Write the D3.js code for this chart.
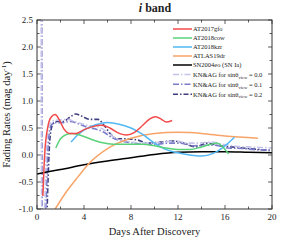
<!DOCTYPE html>
<html>
<head>
<meta charset="utf-8">
<script src="https://cdn.jsdelivr.net/npm/d3@7"></script>
<style>
  body { margin: 0; background: white; }
  text { font-family: "Liberation Serif", "DejaVu Serif", serif; fill: #222; }
</style>
</head>
<body>
<script>
// values
const xTicks = [0, 4, 8, 12, 16, 20];
const yTicks = [-1.0, -0.5, 0.0, 0.5, 1.0, 1.5, 2.0, 2.5];

const gfoDays  = [0.5,0.65,0.9,1.2,1.55,1.9,2.3,2.8,3.3,4,4.8,5.5,6.2,7,7.6,8.3,9,9.6,10.1,10.6,11,11.5];
const gfoRates = [-0.76,0.0,0.5,0.7,0.75,0.65,0.48,0.4,0.4,0.47,0.53,0.55,0.5,0.4,0.37,0.42,0.55,0.67,0.71,0.66,0.61,0.64];

const cowDays  = [1.6,2.0,2.5,3.0,3.5,4.5,5.5,6.5,8,9,10,11,12,13,14,14.8,15.3,15.8,16.3];
const cowRates = [0.13,0.3,0.38,0.4,0.38,0.3,0.23,0.2,0.2,0.2,0.17,0.13,0.1,0.1,0.15,0.2,0.22,0.15,0.02];

const kzrDays  = [2.9,3.5,4.5,5.5,6,7,8,9,10,11,12,13,14,15,16,16.8];
const kzrRates = [0.24,0.38,0.52,0.59,0.6,0.57,0.5,0.38,0.22,0.1,0.04,0.0,-0.02,0.03,0.17,0.33];

const drDays  = [1.55,2.5,3.5,4.5,6,8,10,12,14,16,18.8];
const drRates = [-1.0,-0.68,-0.4,-0.14,0.12,0.31,0.4,0.42,0.4,0.35,0.31];

const eoDays  = [0,2,4,6,8,10,12,14,16,18,20];
const eoRates = [-0.35,-0.27,-0.18,-0.11,-0.05,0.01,0.05,0.06,0.06,0.05,0.04];

const kn0Days  = [0.35,0.4,0.6,0.85,1.1,1.5,2.0,2.6,3.2,3.8,4.5,5.2,6.0,6.8,7.8,8.8,9.8,10.8,11.8,12.8,13.8,14.8,15.8,17,18,19,20];
const kn0Rates = [3.0,-1.1,-1.1,0.3,0.58,0.64,0.65,0.66,0.62,0.58,0.54,0.52,0.42,0.3,0.25,0.22,0.22,0.24,0.26,0.22,0.22,0.24,0.2,0.16,0.15,0.14,0.13];

const kn1Days  = [0.4,0.45,0.7,0.95,1.2,1.6,2.2,2.8,3.5,4.2,5,5.7,6.4,7.2,8.2,9.2,10.2,11.2,12.2,13.2,14.2,15.2,16.2,17.5,18.5,20];
const kn1Rates = [3.0,-1.1,-1.1,0.2,0.55,0.6,0.6,0.62,0.58,0.52,0.48,0.42,0.32,0.26,0.22,0.2,0.2,0.22,0.22,0.17,0.18,0.18,0.13,0.12,0.1,0.09];

const kn2Days  = [0.85,0.95,1.1,1.3,1.6,2.2,2.8,3.3,3.8,4.5,5.2,5.7,6.3,6.8,7.5,8.5,9.5,10.5,11.5,12.5,13.5,14.5,15.5,16.5,17.5,18.5,19.5,20];
const kn2Rates = [-1.1,-0.4,0.3,0.55,0.62,0.62,0.7,0.76,0.72,0.66,0.66,0.55,0.38,0.3,0.3,0.28,0.22,0.24,0.26,0.22,0.15,0.22,0.17,0.15,0.13,0.11,0.09,0.08];

const seriesNames = ["AT2017gfo", "AT2018cow", "AT2018kzr", "ATLAS19dr", "SN2004eo (SN Ia)", "kn0", "kn1", "kn2"];
const seriesColors = ["#f24a4a", "#5ad27a", "#52b8f4", "#f7a468", "#000000", "#c4c4ea", "#7c7cc8", "#3e3e80"];
const knViews = ["0.0", "0.1", "0.2"];

function drawChart() {
  let W = 293, H = 240;
  let m = {left: 37, right: 21, top: 20, bottom: 31};

  let svg = d3.select("body").append("svg")
    .attr("width", W)
    .attr("height", H);

  let x = d3.scaleLinear().domain([0, 20]).range([m.left, W - m.right]);
  let y = d3.scaleLinear().domain([-1, 2.5]).range([H - m.bottom, m.top]);

  svg.append("defs").append("clipPath").attr("id", "plotclip")
    .append("rect")
    .attr("x", x(0)).attr("y", y(2.5))
    .attr("width", x(20) - x(0)).attr("height", y(-1) - y(2.5));

  // ticks inward on all sides
  let xMinor = d3.range(0, 20.01, 2);
  let yMinor = d3.range(-1, 2.51, 0.25);
  let tk = svg.append("g").attr("stroke", "#333").attr("stroke-width", 0.8);
  xMinor.forEach(d => {
    let len = (d % 4 === 0) ? 4 : 2.5;
    tk.append("line").attr("x1", x(d)).attr("x2", x(d)).attr("y1", y(-1)).attr("y2", y(-1) - len);
    tk.append("line").attr("x1", x(d)).attr("x2", x(d)).attr("y1", y(2.5)).attr("y2", y(2.5) + len);
  });
  yMinor.forEach(d => {
    let len = (Math.abs(d * 2 - Math.round(d * 2)) < 1e-6) ? 4 : 2.5;
    tk.append("line").attr("y1", y(d)).attr("y2", y(d)).attr("x1", x(0)).attr("x2", x(0) + len);
    tk.append("line").attr("y1", y(d)).attr("y2", y(d)).attr("x1", x(20)).attr("x2", x(20) - len);
  });

  svg.selectAll(".xlab").data(xTicks).enter().append("text")
    .attr("x", d => x(d)).attr("y", y(-1) + 11)
    .attr("text-anchor", "middle").attr("font-size", 9)
    .text(d => d);

  svg.selectAll(".ylab").data(yTicks).enter().append("text")
    .attr("x", x(0) - 4).attr("y", d => y(d) + 3)
    .attr("text-anchor", "end").attr("font-size", 9)
    .text(d => d.toFixed(1));

  // curves
  let allDays = [gfoDays, cowDays, kzrDays, drDays, eoDays, kn0Days, kn1Days, kn2Days];
  let allRates = [gfoRates, cowRates, kzrRates, drRates, eoRates, kn0Rates, kn1Rates, kn2Rates];
  let dashes = [null, null, null, null, null, "6,2,1.5,2", "6,2,1.5,2", "5,2,1.5,2"];

  let line = d3.line().x(d => x(d[0])).y(d => y(d[1])).curve(d3.curveMonotoneX);
  let plot = svg.append("g").attr("clip-path", "url(#plotclip)");

  // draw KN first so observed curves sit on top
  [7, 6, 5, 4, 3, 2, 1, 0].forEach(i => {
    let pts = allDays[i].map((d, j) => [d, allRates[i][j]]);
    plot.append("path")
      .attr("d", line(pts))
      .attr("fill", "none")
      .attr("stroke", seriesColors[i])
      .attr("stroke-width", i >= 5 ? 1.6 : 1.5)
      .attr("stroke-dasharray", dashes[i]);
  });

  svg.append("rect")
    .attr("x", x(0)).attr("y", y(2.5))
    .attr("width", x(20) - x(0)).attr("height", y(-1) - y(2.5))
    .attr("fill", "none").attr("stroke", "#333").attr("stroke-width", 1);

  // legend
  let legY = [29, 38, 47, 56, 65, 74.5, 84.3, 94.2];
  let leg = svg.append("g");
  seriesNames.forEach((name, i) => {
    leg.append("line")
      .attr("x1", 173).attr("x2", 192)
      .attr("y1", legY[i]).attr("y2", legY[i])
      .attr("stroke", seriesColors[i]).attr("stroke-width", 1.5)
      .attr("stroke-dasharray", dashes[i]);
    let t = leg.append("text").attr("x", 193).attr("y", legY[i] + 2.4).attr("font-size", 6.5);
    if (i < 5) {
      t.text(name);
    } else {
      t.append("tspan").text("KN&AG for sin\u03b8");
      t.append("tspan").attr("font-size", 4.6).attr("dy", 1.8).text("view");
      t.append("tspan").attr("dy", -1.8).text(" = " + knViews[i - 5]);
    }
  });

  // title & axis labels
  let title = svg.append("text").attr("x", 155).attr("y", 12)
    .attr("text-anchor", "middle").attr("font-size", 12).attr("font-weight", "bold");
  title.append("tspan").attr("font-style", "italic").text("i");
  title.append("tspan").text(" band");

  svg.append("text").attr("x", x(10)).attr("y", 235)
    .attr("text-anchor", "middle").attr("font-size", 10.5)
    .text("Days After Discovery");

  let yl = svg.append("text")
    .attr("transform", "translate(10," + ((y(2.5) + y(-1)) / 2) + ") rotate(-90)")
    .attr("text-anchor", "middle").attr("font-size", 10.5);
  yl.append("tspan").text("Fading Rates (mag day");
  yl.append("tspan").attr("font-size", 7).attr("dy", -4).text("-1");
  yl.append("tspan").attr("dy", 4).text(")");
}

document.addEventListener("DOMContentLoaded", drawChart);
</script>
</body>
</html>
